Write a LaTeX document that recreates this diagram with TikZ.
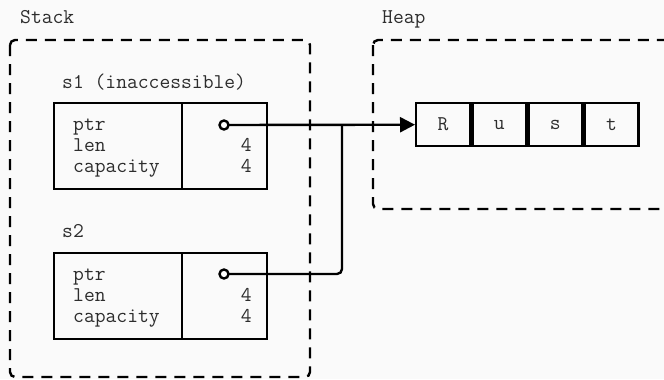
\documentclass[tikz,border=0pt]{standalone}
\usepackage{fontspec}
\usetikzlibrary{arrows.meta}
\definecolor{bgc}{RGB}{250,250,250}
\definecolor{txt}{RGB}{45,45,45}
\begin{document}
\begin{tikzpicture}[x=1bp,y=-1bp,
  lbl/.style={inner sep=0pt,anchor=base west,font=\fontsize{21bp}{21bp}\ttfamily,text=txt},
  val/.style={inner sep=0pt,anchor=base east,font=\fontsize{21bp}{21bp}\ttfamily,text=txt},
  region/.style={draw=black,line width=2.4bp,dash pattern=on 11bp off 8bp,rounded corners=5bp},
  cell/.style={draw=black,line width=2.4bp,rectangle,inner sep=0pt,minimum height=43bp,minimum width=53.75bp,font=\fontsize{21bp}{21bp}\ttfamily,text=txt},
  fbox/.style={draw=black,line width=2.4bp,rectangle,inner sep=0pt,minimum height=86bp},
  dot/.style={circle,draw=black,fill=white,line width=2.4bp,minimum size=9bp,inner sep=0pt},
  link/.style={draw=black,line width=2.4bp}
]
\useasboundingbox[fill=bgc] (0,0) rectangle (664,379);
% regions
\draw[region] (10,40) rectangle (310,377);
\draw[region] (373,40) rectangle (690,209);
\node[lbl] (stacklbl) at (20,23) {Stack};
\node[lbl] (heaplbl) at (382,23) {Heap};
% s1
\node[lbl] (s1lbl) at (62,88) {s1 (inaccessible)};
\node[fbox,minimum width=128bp,anchor=north west] (s1f) at (53,102) {};
\node[fbox,minimum width=85bp,anchor=north west] (s1v) at (181,102) {};
\node[lbl] (s1ptr) at (73,130) {ptr};
\node[lbl] (s1len) at (73,151) {len};
\node[lbl] (s1cap) at (73,172) {capacity};
\node[val] (s1l) at (252,151) {4};
\node[val] (s1c) at (252,172) {4};
% s2
\node[lbl] (s2lbl) at (62,237) {s2};
\node[fbox,minimum width=128bp,anchor=north west] (s2f) at (53,252) {};
\node[fbox,minimum width=85bp,anchor=north west] (s2v) at (181,252) {};
\node[lbl] (s2ptr) at (73,280) {ptr};
\node[lbl] (s2len) at (73,301) {len};
\node[lbl] (s2cap) at (73,322) {capacity};
\node[val] (s2l) at (252,301) {4};
\node[val] (s2c) at (252,322) {4};
% heap cells
\node[cell,anchor=north west] (cR) at (415,102) {R};
\node[cell,anchor=west] (cu) at (cR.east) {u};
\node[cell,anchor=west] (cs) at (cu.east) {s};
\node[cell,anchor=west] (ct) at (cs.east) {t};
% pointers
\coordinate (j) at (342,125);
\coordinate (k) at (342,274);
\draw[link,-{Triangle[length=15bp,width=15bp]}] (224,125) -- (cR.west);
\draw[link,rounded corners=5bp] (224,274) -- (k) -- (j);
\node[dot] (p1) at (224,125) {};
\node[dot] (p2) at (224,274) {};
\end{tikzpicture}
\end{document}
